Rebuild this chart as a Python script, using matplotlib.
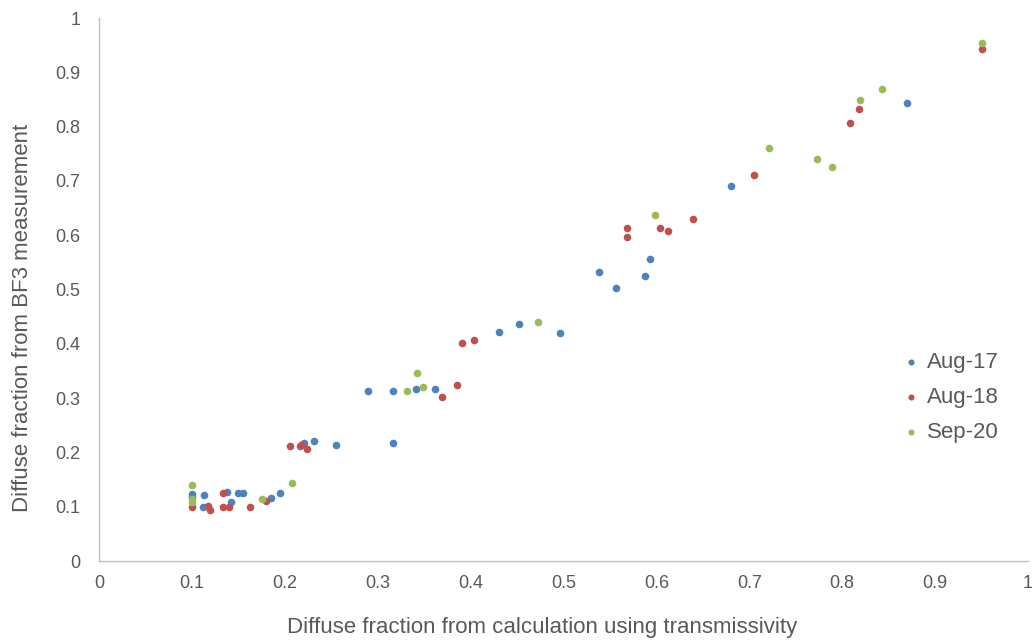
import matplotlib
matplotlib.use('Agg')
import matplotlib.pyplot as plt

plt.rcParams['font.family'] = ['Liberation Sans', 'DejaVu Sans']

# Aug-17
aug17_x = [0.100, 0.100, 0.113, 0.112, 0.138, 0.142, 0.150, 0.155, 0.185, 0.195,
           0.216, 0.221, 0.231, 0.255, 0.290, 0.316, 0.317, 0.341, 0.362, 0.431,
           0.452, 0.496, 0.538, 0.557, 0.588, 0.593, 0.680, 0.870]
aug17_y = [0.123, 0.117, 0.122, 0.100, 0.127, 0.109, 0.125, 0.126, 0.116, 0.126,
           0.212, 0.218, 0.221, 0.214, 0.313, 0.313, 0.217, 0.317, 0.317, 0.422,
           0.436, 0.420, 0.532, 0.503, 0.524, 0.556, 0.691, 0.843]

# Aug-18
aug18_x = [0.100, 0.117, 0.120, 0.134, 0.133, 0.140, 0.163, 0.180, 0.206, 0.217,
           0.224, 0.369, 0.385, 0.391, 0.404, 0.568, 0.568, 0.604, 0.613, 0.639,
           0.705, 0.808, 0.818, 0.950]
aug18_y = [0.100, 0.101, 0.094, 0.125, 0.100, 0.100, 0.100, 0.110, 0.211, 0.214,
           0.207, 0.302, 0.324, 0.401, 0.407, 0.613, 0.597, 0.613, 0.608, 0.630,
           0.711, 0.807, 0.832, 0.943]

# Sep-20
sep20_x = [0.100, 0.100, 0.100, 0.175, 0.208, 0.332, 0.342, 0.349, 0.473, 0.599,
           0.721, 0.773, 0.789, 0.819, 0.843, 0.950]
sep20_y = [0.140, 0.114, 0.109, 0.114, 0.143, 0.313, 0.346, 0.320, 0.440, 0.637,
           0.761, 0.740, 0.726, 0.849, 0.869, 0.954]

ticks = [i / 10 for i in range(11)]
tick_labels = ['0', '0.1', '0.2', '0.3', '0.4', '0.5', '0.6', '0.7', '0.8', '0.9', '1']

series = [('Aug-17', aug17_x, aug17_y, '#4F81BD'),
          ('Aug-18', aug18_x, aug18_y, '#C0504D'),
          ('Sep-20', sep20_x, sep20_y, '#9BBB59')]

fig = plt.figure(figsize=(10.34, 6.41), dpi=100)
ax = fig.add_axes([0.0957, 0.1248, 0.8985, 0.8471])

for name, xs, ys, color in series:
    ax.scatter(xs, ys, s=30, color=color, label=name, linewidths=0, zorder=3)

ax.set_xlim(0, 1)
ax.set_ylim(0, 1)
ax.set_xticks(ticks)
ax.set_yticks(ticks)
ax.set_xticklabels(tick_labels)
ax.set_yticklabels(tick_labels)
ax.tick_params(axis='x', length=0, labelsize=13, colors='#595959', pad=10)
ax.tick_params(axis='y', length=0, labelsize=13, colors='#595959', pad=13.5)

for side in ['top', 'right']:
    ax.spines[side].set_visible(False)
for side in ['left', 'bottom']:
    ax.spines[side].set_color('#BFBFBF')
    ax.spines[side].set_linewidth(1)

ax.set_xlabel('Diffuse fraction from calculation using transmissivity', fontsize=16,
              color='#595959')
ax.set_ylabel('Diffuse fraction from BF3 measurement', fontsize=16,
              color='#595959')
ax.xaxis.set_label_coords(0.477, -0.123)
ax.xaxis.label.set_va('center')
ax.yaxis.set_label_coords(-0.082, 0.447)
ax.yaxis.label.set_va('center')

leg = ax.legend(loc='center left', bbox_to_anchor=(0.867, 0.302), frameon=False,
                fontsize=16, handlelength=0.6, handletextpad=0.4, labelspacing=0.63,
                borderpad=0, borderaxespad=0, markerscale=0.8, labelcolor='#595959')

fig.savefig('out.png', dpi=100)
